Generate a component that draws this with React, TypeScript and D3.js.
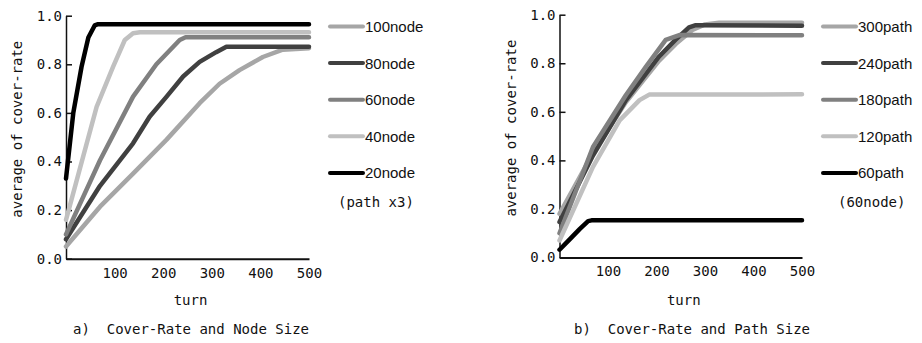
import React, { useEffect, useRef } from "react";
import * as d3 from "d3";

type Pt = [number, number];

// turn, average cover-rate
const node100: Pt[] = [[0, 0.05], [70, 0.214], [138, 0.35], [207, 0.49], [275, 0.64], [316, 0.72], [357, 0.776], [405, 0.83], [446, 0.86], [500, 0.866]];
const node80: Pt[] = [[0, 0.08], [70, 0.3], [138, 0.475], [172, 0.584], [207, 0.667], [241, 0.75], [275, 0.81], [309, 0.85], [330, 0.872], [500, 0.872]];
const node60: Pt[] = [[0, 0.1], [70, 0.405], [138, 0.667], [186, 0.8], [234, 0.9], [246, 0.911], [500, 0.911]];
const node40: Pt[] = [[0, 0.16], [63, 0.625], [97, 0.79], [121, 0.9], [138, 0.928], [152, 0.932], [500, 0.932]];
const node20: Pt[] = [[0, 0.33], [15, 0.6], [32, 0.79], [46, 0.91], [59, 0.96], [66, 0.965], [500, 0.965]];

const path300: Pt[] = [[0, 0.18], [69, 0.43], [137, 0.64], [205, 0.81], [240, 0.88], [274, 0.937], [300, 0.96], [329, 0.967], [500, 0.967]];
const path240: Pt[] = [[0, 0.146], [69, 0.42], [137, 0.648], [205, 0.827], [239, 0.896], [267, 0.948], [281, 0.957], [500, 0.955]];
const path180: Pt[] = [[0, 0.1], [69, 0.455], [137, 0.669], [178, 0.785], [219, 0.896], [247, 0.916], [500, 0.915]];
const path120: Pt[] = [[0, 0.07], [69, 0.373], [124, 0.565], [165, 0.648], [185, 0.671], [500, 0.672]];
const path60: Pt[] = [[0, 0.032], [22, 0.077], [42, 0.118], [59, 0.15], [66, 0.153], [500, 0.153]];

const nodeLabels = ["100node", "80node", "60node", "40node", "20node"];
const pathLabels = ["300path", "240path", "180path", "120path", "60path"];
const greys = ["#a6a6a6", "#404040", "#808080", "#c0c0c0", "#000000"];
const yTicks = [0, 0.2, 0.4, 0.6, 0.8, 1.0];
const xTicks = [100, 200, 300, 400, 500];

const mono = "'DejaVu Sans Mono', monospace";
const sans = "'Liberation Sans', Arial, sans-serif";

interface PanelCfg {
  left: number;
  right: number;
  top: number;
  bottom: number;
  series: Pt[][];
  labels: string[];
  note: string;
  noteX: number;
  caption: string;
  captionX: number;
  legendX: number;
}

const panels: PanelCfg[] = [
  {
    left: 66, right: 309, top: 15.7, bottom: 258.7,
    series: [node100, node80, node60, node40, node20], labels: nodeLabels,
    note: "(path x3)", noteX: 338, caption: "a)  Cover-Rate and Node Size", captionX: 73, legendX: 330,
  },
  {
    left: 559.5, right: 802, top: 14.7, bottom: 257.5,
    series: [path300, path240, path180, path120, path60], labels: pathLabels,
    note: "(60node)", noteX: 838, caption: "b)  Cover-Rate and Path Size", captionX: 574, legendX: 823,
  },
];

const App = () => {
  const svgRef = useRef<SVGSVGElement>(null);

  useEffect(() => {
    const svg = d3.select(svgRef.current);
    svg.selectAll("*").remove();

    panels.forEach((p) => {
      const g = svg.append("g");
      const x = d3.scaleLinear().domain([0, 500]).range([p.left, p.right]);
      const y = d3.scaleLinear().domain([0, 1]).range([p.bottom, p.top]);

      // y axis
      const ya = g
        .append("g")
        .attr("transform", `translate(${p.left},0)`)
        .call(d3.axisLeft(y).tickValues(yTicks).tickFormat(d3.format(".1f")).tickSizeInner(-6).tickSizeOuter(0).tickPadding(4));
      ya.select(".domain").attr("stroke", "#111").attr("stroke-width", 1.5);
      ya.selectAll(".tick line").attr("stroke", "#111").attr("stroke-width", 1.5);
      ya.selectAll("text").attr("font-family", mono).attr("font-size", 14).attr("fill", "#111");

      // x axis
      const xa = g
        .append("g")
        .attr("transform", `translate(0,${p.bottom})`)
        .call(d3.axisBottom(x).tickValues(xTicks).tickSize(0).tickPadding(9));
      xa.select(".domain").attr("stroke", "#111").attr("stroke-width", 2);
      xa.selectAll("text").attr("font-family", mono).attr("font-size", 14).attr("fill", "#111");

      const line = d3
        .line<Pt>()
        .x((d) => x(d[0]))
        .y((d) => y(d[1]));

      p.series.forEach((s, i) => {
        g.append("path")
          .datum(s)
          .attr("fill", "none")
          .attr("stroke", greys[i])
          .attr("stroke-width", 4.5)
          .attr("stroke-linejoin", "round")
          .attr("stroke-linecap", "round")
          .attr("d", line);
      });

      // titles
      const cy = (p.top + p.bottom) / 2 - 8;
      g.append("text")
        .attr("transform", `translate(${p.left - 44},${cy}) rotate(-90)`)
        .attr("text-anchor", "middle")
        .attr("font-family", mono)
        .attr("font-size", 14)
        .attr("fill", "#111")
        .text("average of cover-rate");

      g.append("text")
        .attr("x", (p.left + p.right) / 2 + 3)
        .attr("y", 305)
        .attr("text-anchor", "middle")
        .attr("font-family", mono)
        .attr("font-size", 14)
        .attr("fill", "#111")
        .text("turn");

      g.append("text")
        .attr("x", p.captionX)
        .attr("y", 334)
        .attr("font-family", mono)
        .attr("font-size", 14)
        .attr("fill", "#111")
        .attr("xml:space", "preserve")
        .style("white-space", "pre")
        .text(p.caption);

      // legend
      const lg = g.append("g");
      p.labels.forEach((lab, i) => {
        const ly = 26.5 + i * 36.6;
        lg.append("line")
          .attr("x1", p.legendX)
          .attr("x2", p.legendX + 33)
          .attr("y1", ly)
          .attr("y2", ly)
          .attr("stroke", greys[i])
          .attr("stroke-width", 4)
          .attr("stroke-linecap", "round");
        lg.append("text")
          .attr("x", p.legendX + 35)
          .attr("y", ly + 5.5)
          .attr("font-family", sans)
          .attr("font-size", 15)
          .attr("fill", "#111")
          .text(lab);
      });
      lg.append("text")
        .attr("x", p.noteX)
        .attr("y", 207)
        .attr("font-family", mono)
        .attr("font-size", 14)
        .attr("fill", "#111")
        .text(p.note);
    });
  }, []);

  return (
    <svg
      ref={svgRef}
      width={922}
      height={343}
      style={{ position: "absolute", left: 0, top: 0, background: "#fff" }}
    />
  );
};

export default App;
